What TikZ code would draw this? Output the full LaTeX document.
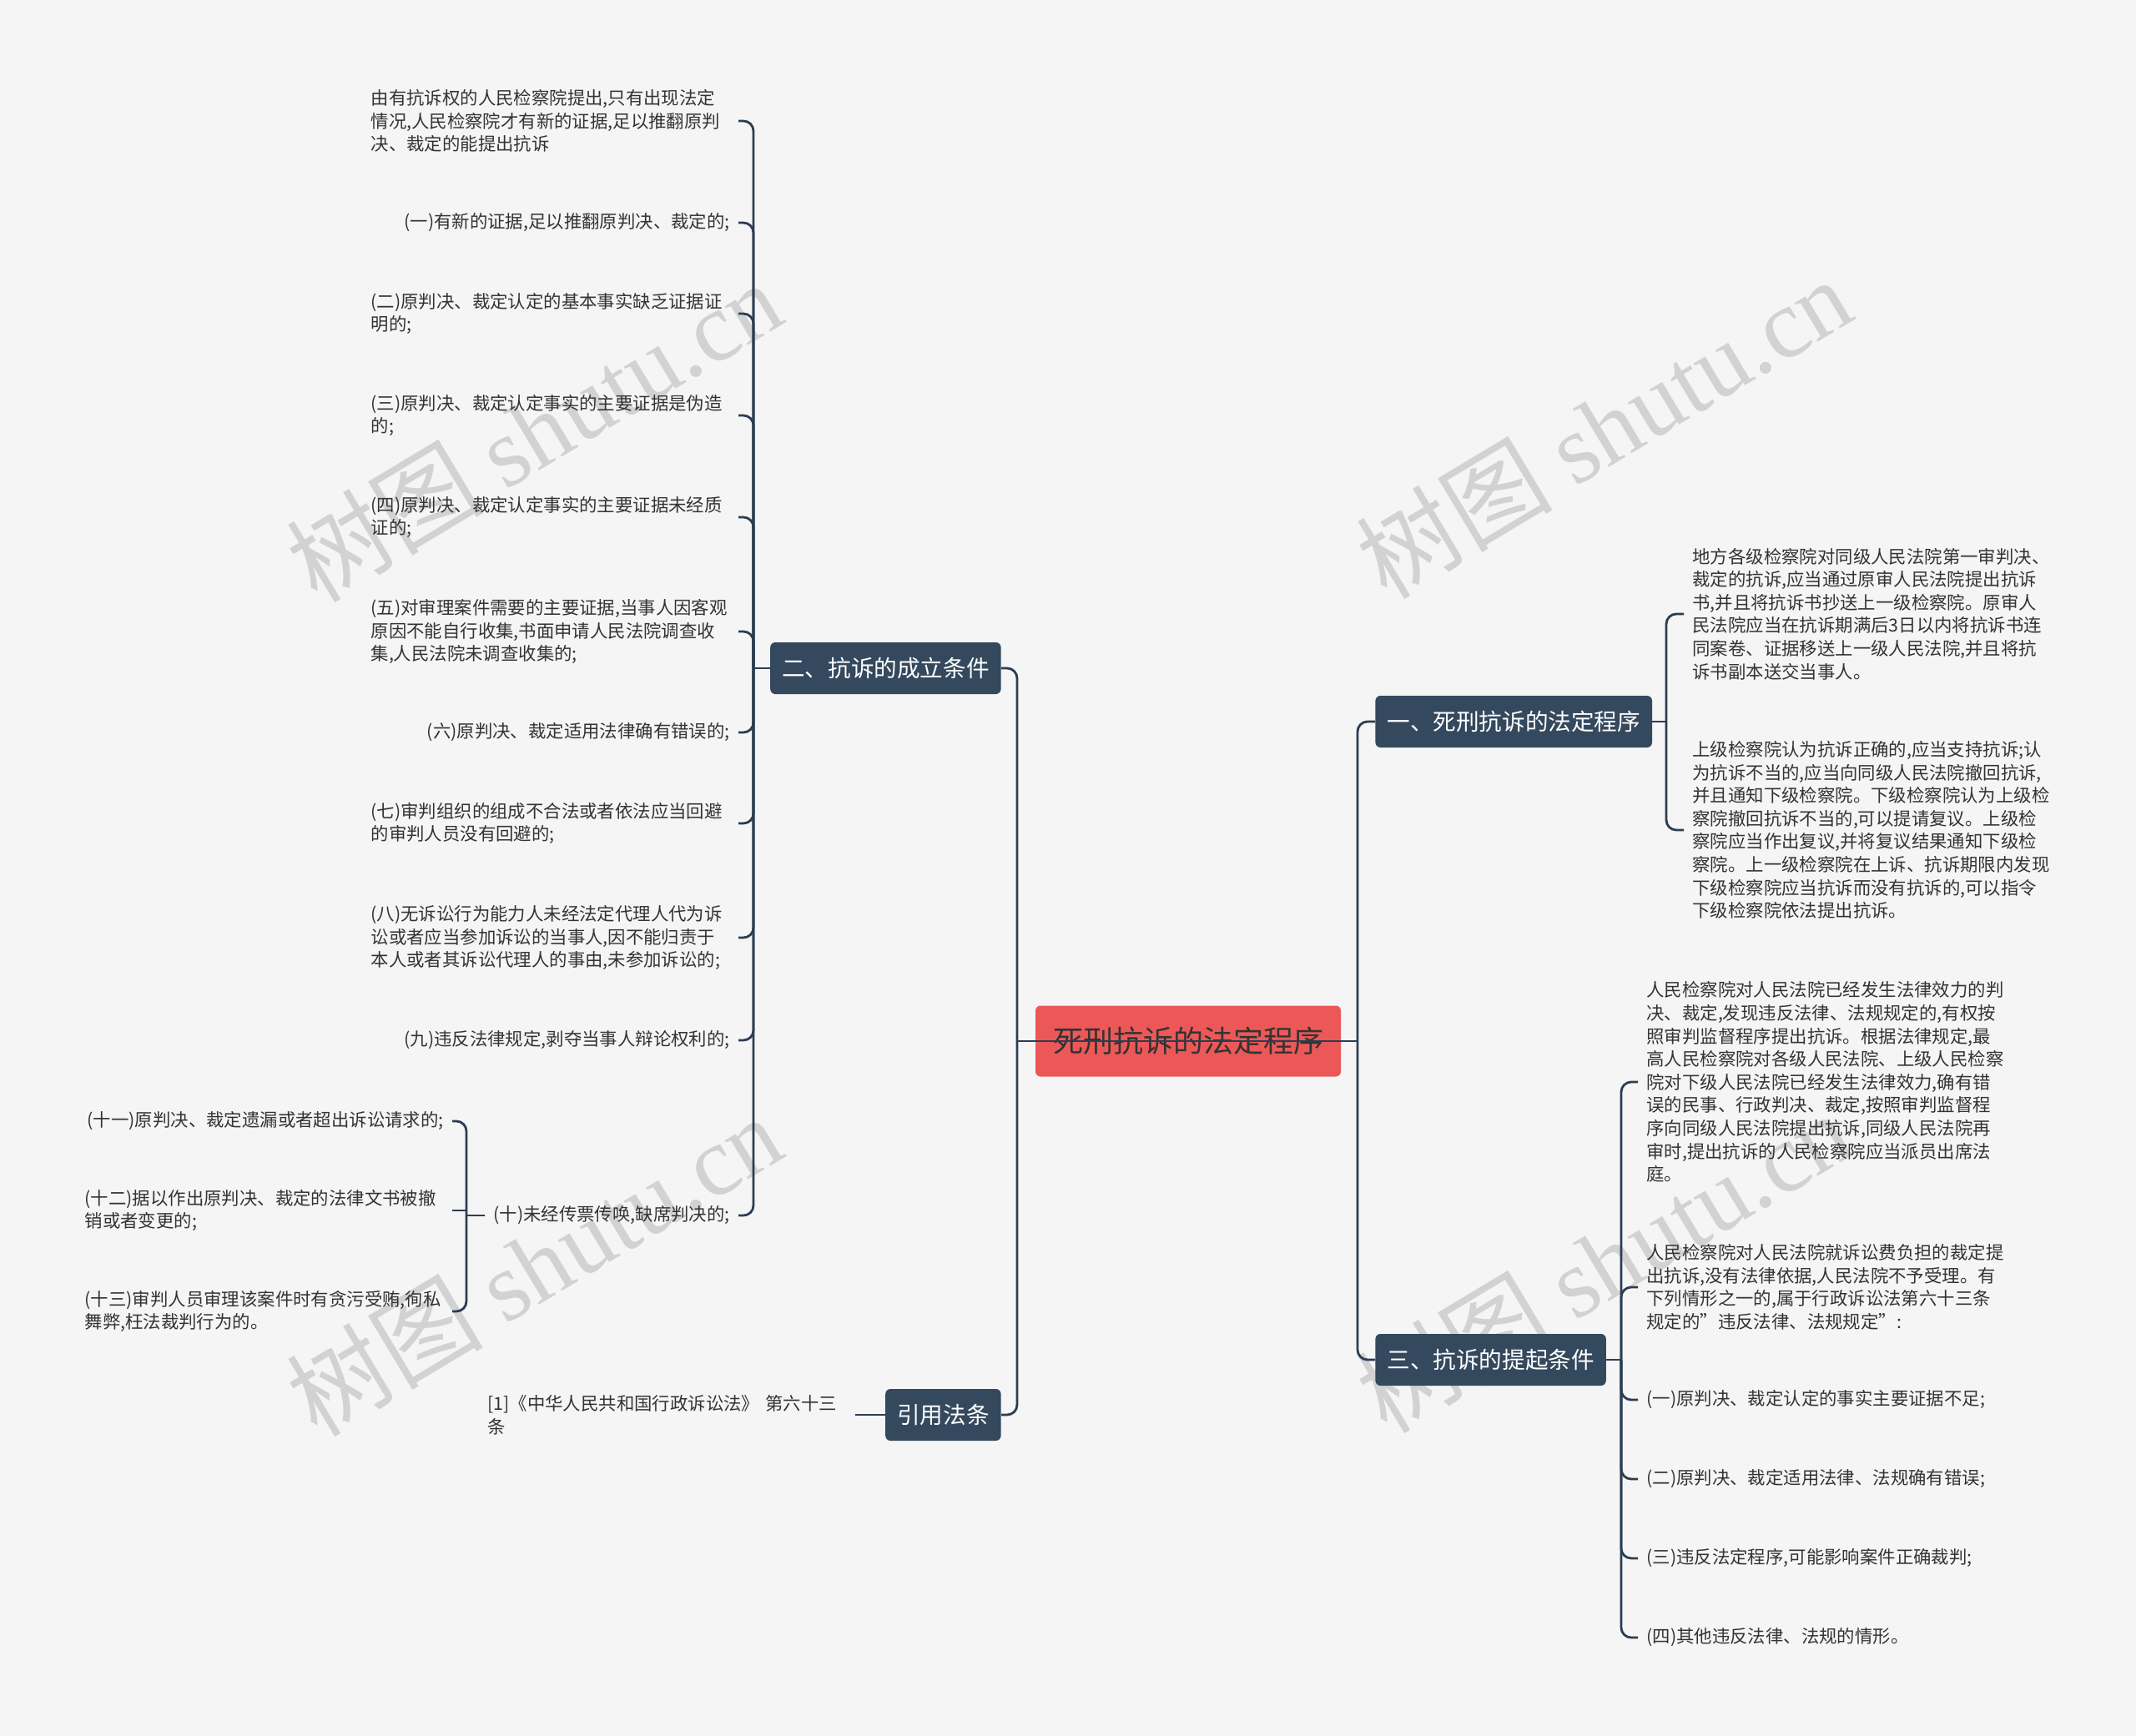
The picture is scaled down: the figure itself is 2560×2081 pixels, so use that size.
\documentclass[tikz,border=0pt]{standalone}
\usepackage{fontspec}
\setmainfont{Noto Sans CJK SC}
\newfontfamily\wmserif{Liberation Serif}
\definecolor{bg}{RGB}{245,245,245}
\definecolor{linec}{RGB}{43,61,82}
\definecolor{bfill}{RGB}{52,73,94}
\definecolor{rootred}{RGB}{236,88,88}
\definecolor{rtxt}{RGB}{51,51,51}
\definecolor{txt}{RGB}{51,51,51}
\definecolor{wm}{RGB}{210,210,210}
\begin{document}
\begin{tikzpicture}[x=0.5pt,y=-0.5pt,
  conn/.style={draw=linec, line width=1.4pt, rounded corners=6pt},
  straight/.style={draw=linec, line width=1.4pt},
  rootnode/.style={fill=rootred, rounded corners=3pt, text=rtxt, font=\fontsize{18}{22}\selectfont, minimum width=183pt, minimum height=42.5pt, inner sep=0pt},
  branch/.style={fill=bfill, rounded corners=3pt, text=white, font=\fontsize{13.8}{16}\selectfont, inner xsep=7pt, inner ysep=0pt, minimum height=31pt},
  item/.style={font=\fontsize{10.7}{13.8}\selectfont, text=txt, inner xsep=5pt, inner ysep=2pt},
  itemw/.style={item, text width=215pt, align=left},
  wmark/.style={text=wm, rotate=31, font=\fontsize{59}{62}\selectfont}]
\useasboundingbox (0,0) rectangle (2560,2081);
\fill[bg] (0,0) rectangle (2560,2081);
% watermarks
\node[wmark] (w1) at (640,516) {树图 {\wmserif shutu.cn}};
\node[wmark] (w2) at (1922,512) {树图 {\wmserif shutu.cn}};
\node[wmark] (w3) at (640,1516) {树图 {\wmserif shutu.cn}};
\node[wmark] (w4) at (1922,1512) {树图 {\wmserif shutu.cn}};
% trunk x positions
\coordinate (lt) at (1219,0);
\coordinate (rt) at (1627,0);
\coordinate (t2) at (903,0);
\coordinate (st) at (559,0);
\coordinate (t1) at (1997,0);
\coordinate (t3) at (1943,0);
% root and branches
\node[rootnode] (root) at (1424,1248) {死刑抗诉的法定程序};
\node[branch, anchor=east] (n2) at (1200,801) {二、抗诉的成立条件};
\node[branch, anchor=east] (n4) at (1200,1696) {引用法条};
\node[branch, anchor=west] (n1) at (1648,865) {一、死刑抗诉的法定程序};
\node[branch, anchor=west] (n3) at (1648,1630) {三、抗诉的提起条件};
% children of n2
\node[itemw, anchor=east] (a1) at (885,145) {由有抗诉权的人民检察院提出,只有出现法定\\情况,人民检察院才有新的证据,足以推翻原判\\决、裁定的能提出抗诉};
\node[item, anchor=east] (a2) at (885,267) {(一)有新的证据,足以推翻原判决、裁定的;};
\node[itemw, anchor=east] (a3) at (885,376) {(二)原判决、裁定认定的基本事实缺乏证据证\\明的;};
\node[itemw, anchor=east] (a4) at (885,498) {(三)原判决、裁定认定事实的主要证据是伪造\\的;};
\node[itemw, anchor=east] (a5) at (885,620) {(四)原判决、裁定认定事实的主要证据未经质\\证的;};
\node[itemw, anchor=east] (a6) at (885,757) {(五)对审理案件需要的主要证据,当事人因客观\\原因不能自行收集,书面申请人民法院调查收\\集,人民法院未调查收集的;};
\node[item, anchor=east] (a7) at (885,878) {(六)原判决、裁定适用法律确有错误的;};
\node[itemw, anchor=east] (a8) at (885,987) {(七)审判组织的组成不合法或者依法应当回避\\的审判人员没有回避的;};
\node[itemw, anchor=east] (a9) at (885,1124) {(八)无诉讼行为能力人未经法定代理人代为诉\\讼或者应当参加诉讼的当事人,因不能归责于\\本人或者其诉讼代理人的事由,未参加诉讼的;};
\node[item, anchor=east] (a10) at (885,1247) {(九)违反法律规定,剥夺当事人辩论权利的;};
\node[item, anchor=east] (a11) at (885,1457) {(十)未经传票传唤,缺席判决的;};
% children of a11
\node[item, anchor=east] (b1) at (542,1344) {(十一)原判决、裁定遗漏或者超出诉讼请求的;};
\node[itemw, anchor=east] (b2) at (542,1451) {(十二)据以作出原判决、裁定的法律文书被撤\\销或者变更的;};
\node[itemw, anchor=east] (b3) at (542,1572) {(十三)审判人员审理该案件时有贪污受贿,徇私\\舞弊,枉法裁判行为的。};
% child of n4
\node[itemw, anchor=west] (e1) at (574,1696) {[1]《中华人民共和国行政诉讼法》 第六十三\\条};
% children of n1
\node[itemw, text width=216pt, anchor=west] (d1) at (2018,736) {地方各级检察院对同级人民法院第一审判决、\\裁定的抗诉,应当通过原审人民法院提出抗诉\\书,并且将抗诉书抄送上一级检察院。原审人\\民法院应当在抗诉期满后3日以内将抗诉书连\\同案卷、证据移送上一级人民法院,并且将抗\\诉书副本送交当事人。};
\node[itemw, text width=216pt, anchor=west] (d2) at (2018,995) {上级检察院认为抗诉正确的,应当支持抗诉;认\\为抗诉不当的,应当向同级人民法院撤回抗诉,\\并且通知下级检察院。下级检察院认为上级检\\察院撤回抗诉不当的,可以提请复议。上级检\\察院应当作出复议,并将复议结果通知下级检\\察院。上一级检察院在上诉、抗诉期限内发现\\下级检察院应当抗诉而没有抗诉的,可以指令\\下级检察院依法提出抗诉。};
% children of n3
\node[itemw, text width=216pt, anchor=west] (c1) at (1963,1297) {人民检察院对人民法院已经发生法律效力的判\\决、裁定,发现违反法律、法规规定的,有权按\\照审判监督程序提出抗诉。根据法律规定,最\\高人民检察院对各级人民法院、上级人民检察\\院对下级人民法院已经发生法律效力,确有错\\误的民事、行政判决、裁定,按照审判监督程\\序向同级人民法院提出抗诉,同级人民法院再\\审时,提出抗诉的人民检察院应当派员出席法\\庭。};
\node[itemw, text width=216pt, anchor=west] (c2) at (1963,1543) {人民检察院对人民法院就诉讼费负担的裁定提\\出抗诉,没有法律依据,人民法院不予受理。有\\下列情形之一的,属于行政诉讼法第六十三条\\规定的\symbol{34}违反法律、法规规定\symbol{34}:};
\node[item, anchor=west] (c3) at (1963,1678) {(一)原判决、裁定认定的事实主要证据不足;};
\node[item, anchor=west] (c4) at (1963,1773) {(二)原判决、裁定适用法律、法规确有错误;};
\node[item, anchor=west] (c5) at (1963,1868) {(三)违反法定程序,可能影响案件正确裁判;};
\node[item, anchor=west] (c6) at (1963,1963) {(四)其他违反法律、法规的情形。};
% main connectors
\draw[conn] (lt |- root.center) -- (lt |- n2.east) -- (n2.east);
\draw[conn] (lt |- root.center) -- (lt |- n4.east) -- (n4.east);
\draw[conn] (rt |- root.center) -- (rt |- n1.west) -- (n1.west);
\draw[conn] (rt |- root.center) -- (rt |- n3.west) -- (n3.west);
\draw[straight] (lt |- root.center) -- (rt |- root.center);
% n2 children
\draw[straight] (n2.west) -- (t2 |- n2.west);
\foreach \c in {a1,a2,a3,a4,a5,a6,a7,a8,a9,a10,a11}
  \draw[conn] (\c.east) -- (\c.east -| t2) -- (t2 |- n2.west);
% a11 children
\draw[straight] (a11.west) -- (st |- a11.west);
\draw[conn] (b1.east) -- (b1.east -| st) -- (st |- a11.west);
\draw[straight] (b2.east) -- (b2.east -| st) -- (st |- a11.west);
\draw[conn] (b3.east) -- (b3.east -| st) -- (st |- a11.west);
% n4 child
\draw[straight] (e1.east) -- (n4.west);
% n1 children
\draw[straight] (n1.east) -- (t1 |- n1.east);
\foreach \c in {d1,d2}
  \draw[conn] (\c.west) -- (\c.west -| t1) -- (t1 |- n1.east);
% n3 children
\draw[straight] (n3.east) -- (t3 |- n3.east);
\foreach \c in {c1,c2,c3,c4,c5,c6}
  \draw[conn] (\c.west) -- (\c.west -| t3) -- (t3 |- n3.east);
\end{tikzpicture}
\end{document}
